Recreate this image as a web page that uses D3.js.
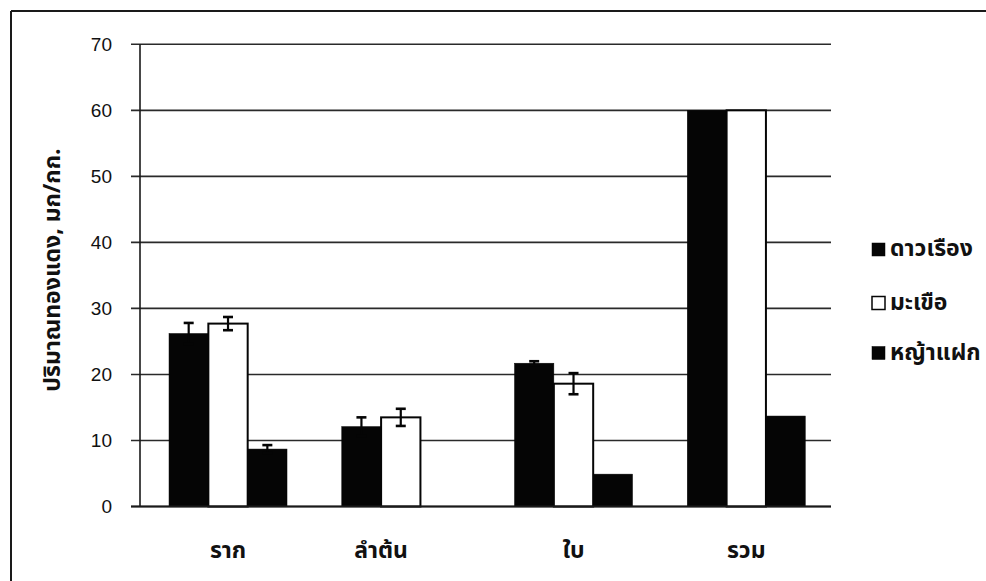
<!DOCTYPE html>
<html><head><meta charset="utf-8">
<script src="https://cdn.jsdelivr.net/npm/d3@7"></script>
<style>
html,body{margin:0;padding:0;background:#fff;}
svg{display:block;}
</style></head>
<body>
<svg id="chart" width="986" height="581"></svg>
<script>
const categories = ["ราก", "ลำต้น", "ใบ", "รวม"];
const seriesNames = ["ดาวเรือง", "มะเขือ", "หญ้าแฝก"];
const marigold = [26.2, 12.1, 21.7, 60.0];
const eggplant = [27.7, 13.5, 18.6, 60.0];
const vetiver = [8.7, null, 4.9, 13.7];
const marigoldErr = [1.6, 1.4, 0.3, 0];
const eggplantErr = [1.0, 1.3, 1.6, 0];
const vetiverErr = [0.6, null, 0, 0];
const yTicks = [0, 10, 20, 30, 40, 50, 60, 70];
const yTitle = "ปริมาณทองแดง, มก/กก.";

(function () {
const seriesValues = [marigold, eggplant, vetiver];
const seriesErrs = [marigoldErr, eggplantErr, vetiverErr];
const seriesFill = ["#050505", "#ffffff", "#050505"];

const svg = d3.select("#chart");
const pLeft = 140, pRight = 831, pTop = 44.3, pBottom = 506.5;
const thaiFont = "'Noto Sans Thai','Noto Sans Thai Looped','Loma','Garuda','Tlwg Typo','Noto Sans',sans-serif";

// frame
svg.append("line").attr("x1", 11).attr("y1", 11).attr("x2", 11).attr("y2", 581).attr("stroke", "#1a1a1a").attr("stroke-width", 2);
svg.append("line").attr("x1", 11).attr("y1", 11).attr("x2", 986).attr("y2", 11).attr("stroke", "#1a1a1a").attr("stroke-width", 2);

const y = d3.scaleLinear().domain([0, 70]).range([pBottom, pTop]);
const x0 = d3.scaleBand().domain(categories).range([pLeft, pRight]).paddingInner(0).paddingOuter(0);
const bw = x0.bandwidth();
const x1 = d3.scaleBand().domain(seriesNames).range([bw * 0.168, bw * 0.168 + bw * 0.683]);

// gridlines
svg.append("g").selectAll("line").data(yTicks).join("line")
  .attr("x1", pLeft - 9).attr("x2", pRight)
  .attr("y1", d => y(d)).attr("y2", d => y(d))
  .attr("stroke", "#2a2a2a").attr("stroke-width", 1.6);

// y axis
const yAxis = d3.axisLeft(y).tickValues(yTicks).tickSize(0).tickPadding(28);
const gy = svg.append("g").attr("transform", `translate(${pLeft},0)`).call(yAxis);
gy.select(".domain").remove();
gy.selectAll("text").attr("font-family", "'Liberation Sans',Arial,sans-serif").attr("font-size", 19).attr("fill", "#111").attr("dy", "0.3em");
svg.append("line").attr("x1", pLeft).attr("x2", pLeft).attr("y1", pTop).attr("y2", pBottom).attr("stroke", "#1a1a1a").attr("stroke-width", 1.6);

// bars
const rows = [];
seriesNames.forEach((s, si) => {
  categories.forEach((c, ci) => {
    const v = seriesValues[si][ci];
    if (v === null || v === undefined) return;
    rows.push({s, si, c, v, e: seriesErrs[si][ci]});
  });
});

const bars = svg.append("g");
bars.selectAll("rect").data(rows).join("rect")
  .attr("x", d => x0(d.c) + x1(d.s))
  .attr("y", d => y(d.v))
  .attr("width", x1.bandwidth())
  .attr("height", d => y(0) - y(d.v))
  .attr("fill", d => seriesFill[d.si])
  .attr("stroke", "#050505")
  .attr("stroke-width", d => d.si === 1 ? 2 : 0.5);

// error bars
const eg = svg.append("g").attr("stroke", "#050505").attr("stroke-width", 2.2);
rows.filter(d => d.e > 0).forEach(d => {
  const cx = x0(d.c) + x1(d.s) + x1.bandwidth() / 2;
  const y1 = y(d.v + d.e), y2 = y(d.v - d.e);
  eg.append("line").attr("x1", cx).attr("x2", cx).attr("y1", y1).attr("y2", y2);
  eg.append("line").attr("x1", cx - 5).attr("x2", cx + 5).attr("y1", y1).attr("y2", y1).attr("stroke-width", 2.6);
  eg.append("line").attr("x1", cx - 5).attr("x2", cx + 5).attr("y1", y2).attr("y2", y2).attr("stroke-width", 2.6);
});

// x axis baseline
svg.append("line").attr("x1", pLeft - 9).attr("x2", pRight).attr("y1", pBottom).attr("y2", pBottom).attr("stroke", "#1a1a1a").attr("stroke-width", 1.8);

// x labels: centred under the bars present in each category
const labelX = categories.map(c => {
  const xs = rows.filter(r => r.c === c).map(r => x0(c) + x1(r.s) + x1.bandwidth() / 2);
  return d3.mean(xs);
});
svg.append("g").selectAll("text").data(categories).join("text")
  .attr("x", (d, i) => labelX[i])
  .attr("y", 558)
  .attr("text-anchor", "middle")
  .attr("font-family", thaiFont).attr("font-size", 23).attr("font-weight", "bold").attr("fill", "#111")
  .text(d => d);

// y title
svg.append("text")
  .attr("transform", `translate(60,270) rotate(-90)`)
  .attr("text-anchor", "middle")
  .attr("font-family", thaiFont).attr("font-size", 23).attr("font-weight", "bold").attr("fill", "#111")
  .text(yTitle);

// legend
const legendY = [249.5, 303, 353];
const lg = svg.append("g");
seriesNames.forEach((s, i) => {
  lg.append("rect").attr("x", 872).attr("y", legendY[i] - 6.5).attr("width", 13).attr("height", 13)
    .attr("fill", seriesFill[i]).attr("stroke", "#050505").attr("stroke-width", i === 1 ? 1.5 : 0.5);
  lg.append("text").attr("x", 890).attr("y", legendY[i] + 6.5)
    .attr("font-family", thaiFont).attr("font-size", 23).attr("font-weight", "bold").attr("fill", "#111")
    .text(s);
});
})();
</script>
</body></html>
